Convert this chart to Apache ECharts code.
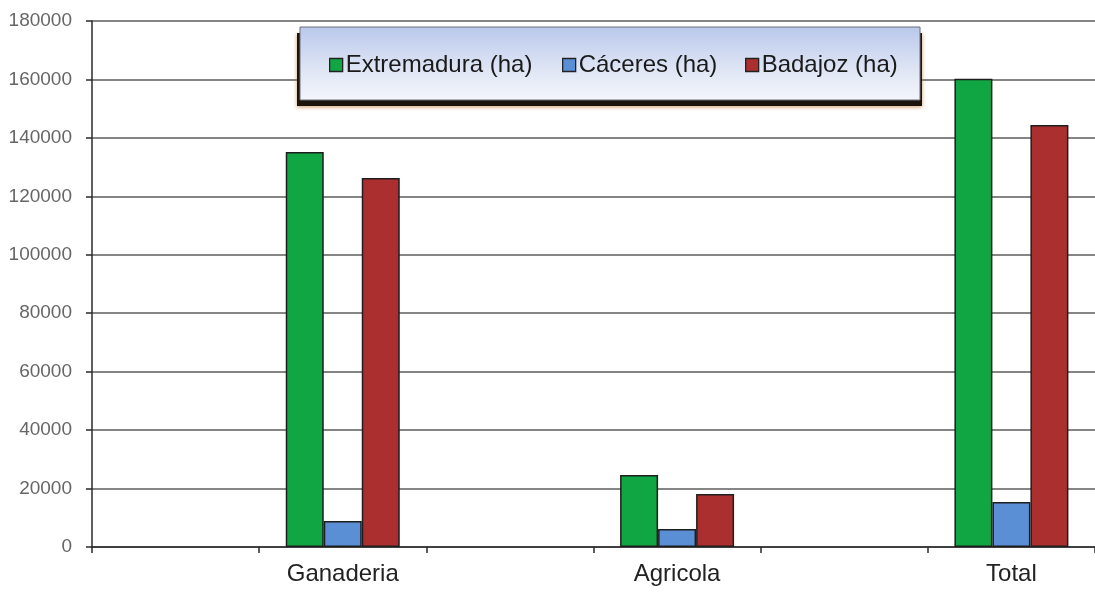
<!DOCTYPE html>
<html>
<head>
<meta charset="utf-8">
<title>Superficie (ha)</title>
<script src="https://cdn.jsdelivr.net/npm/echarts@6/dist/echarts.min.js"></script>
<style>
  html, body { margin: 0; padding: 0; background: #fff; }
  #chart { width: 1095px; height: 592px; }
</style>
</head>
<body>
<div id="chart"></div>
<script>
// empty slots between groups, like the original sheet
const categories = ['', 'Ganaderia', '', 'Agricola', '', 'Total'];
const seriesNames = ['Extremadura (ha)', 'Cáceres (ha)', 'Badajoz (ha)'];
const extremadura = ['-', 135200, '-', 24600, '-', 160200];
const caceres = ['-', 8900, '-', 6200, '-', 15400];
const badajoz = ['-', 126300, '-', 18100, '-', 144400];
const yTicks = [0, 20000, 40000, 60000, 80000, 100000, 120000, 140000, 160000, 180000];

const colors = ['#10a644', '#5b8fd5', '#ab2f2e'];

const chart = echarts.init(document.getElementById('chart'));

function bar(name, data, i) {
    return {
        name: name,
        type: 'bar',
        data: data,
        barWidth: 38,
        barGap: '0%',
        itemStyle: {
            color: colors[i],
            borderColor: '#1e1e1e',
            borderWidth: 1.5
        }
    };
}

// one legend per entry so each sits where it does in the picture
const legendPos = [329, 562, 745];
const legends = seriesNames.map((n, i) => ({
    data: [n],
    left: legendPos[i],
    top: 53,
    icon: 'rect',
    itemWidth: 13,
    itemHeight: 13,
    itemGap: 5,
    padding: 0,
    selectedMode: false,
    itemStyle: { borderColor: '#222', borderWidth: 1.3 },
    textStyle: {
        fontFamily: 'Liberation Sans, Arial, sans-serif',
        fontSize: 24,
        color: '#1a1a1a',
        padding: [0, 0, 0, -2]
    }
}));

chart.setOption({
    animation: false,
    color: colors,
    grid: {
        left: 92,
        top: 21,
        width: 1014,
        bottom: 45
    },
    legend: legends,
    graphic: [
        {
            type: 'rect',
            z: 3,
            shape: { x: 297, y: 33, width: 625, height: 73 },
            style: {
                fill: '#1b140c',
                shadowBlur: 4,
                shadowColor: 'rgba(190, 110, 40, 0.7)',
                shadowOffsetY: 1
            }
        },
        {
            type: 'rect',
            z: 4,
            shape: { x: 300, y: 27, width: 620, height: 73 },
            style: {
                fill: new echarts.graphic.LinearGradient(0, 0, 0, 1, [
                    { offset: 0, color: '#b9c8eb' },
                    { offset: 0.6, color: '#e0e6f5' },
                    { offset: 1, color: '#f4f6fb' }
                ]),
                stroke: '#6b6f7a',
                lineWidth: 1
            }
        }
    ],
    xAxis: {
        type: 'category',
        data: categories,
        axisLine: { lineStyle: { color: '#2a2a2a', width: 1.5 } },
        axisTick: { show: true, length: 6, interval: 0, lineStyle: { color: '#2a2a2a', width: 1.5 } },
        axisLabel: {
            interval: 0,
            margin: 15,
            fontFamily: 'Liberation Sans, Arial, sans-serif',
            fontSize: 24,
            color: '#222'
        }
    },
    yAxis: {
        type: 'value',
        min: yTicks[0],
        max: yTicks[yTicks.length - 1],
        interval: 20000,
        axisLine: { show: true, lineStyle: { color: '#2a2a2a', width: 1.5 } },
        axisTick: { show: true, length: 6, lineStyle: { color: '#2a2a2a', width: 1.5 } },
        axisLabel: {
            margin: 20,
            formatter: v => String(v),
            fontFamily: 'Liberation Sans, Arial, sans-serif',
            fontSize: 19,
            color: '#666'
        },
        splitLine: { lineStyle: { color: '#5c5c5c', width: 1.5 } }
    },
    series: [
        bar(seriesNames[0], extremadura, 0),
        bar(seriesNames[1], caceres, 1),
        bar(seriesNames[2], badajoz, 2)
    ]
});
</script>
</body>
</html>
